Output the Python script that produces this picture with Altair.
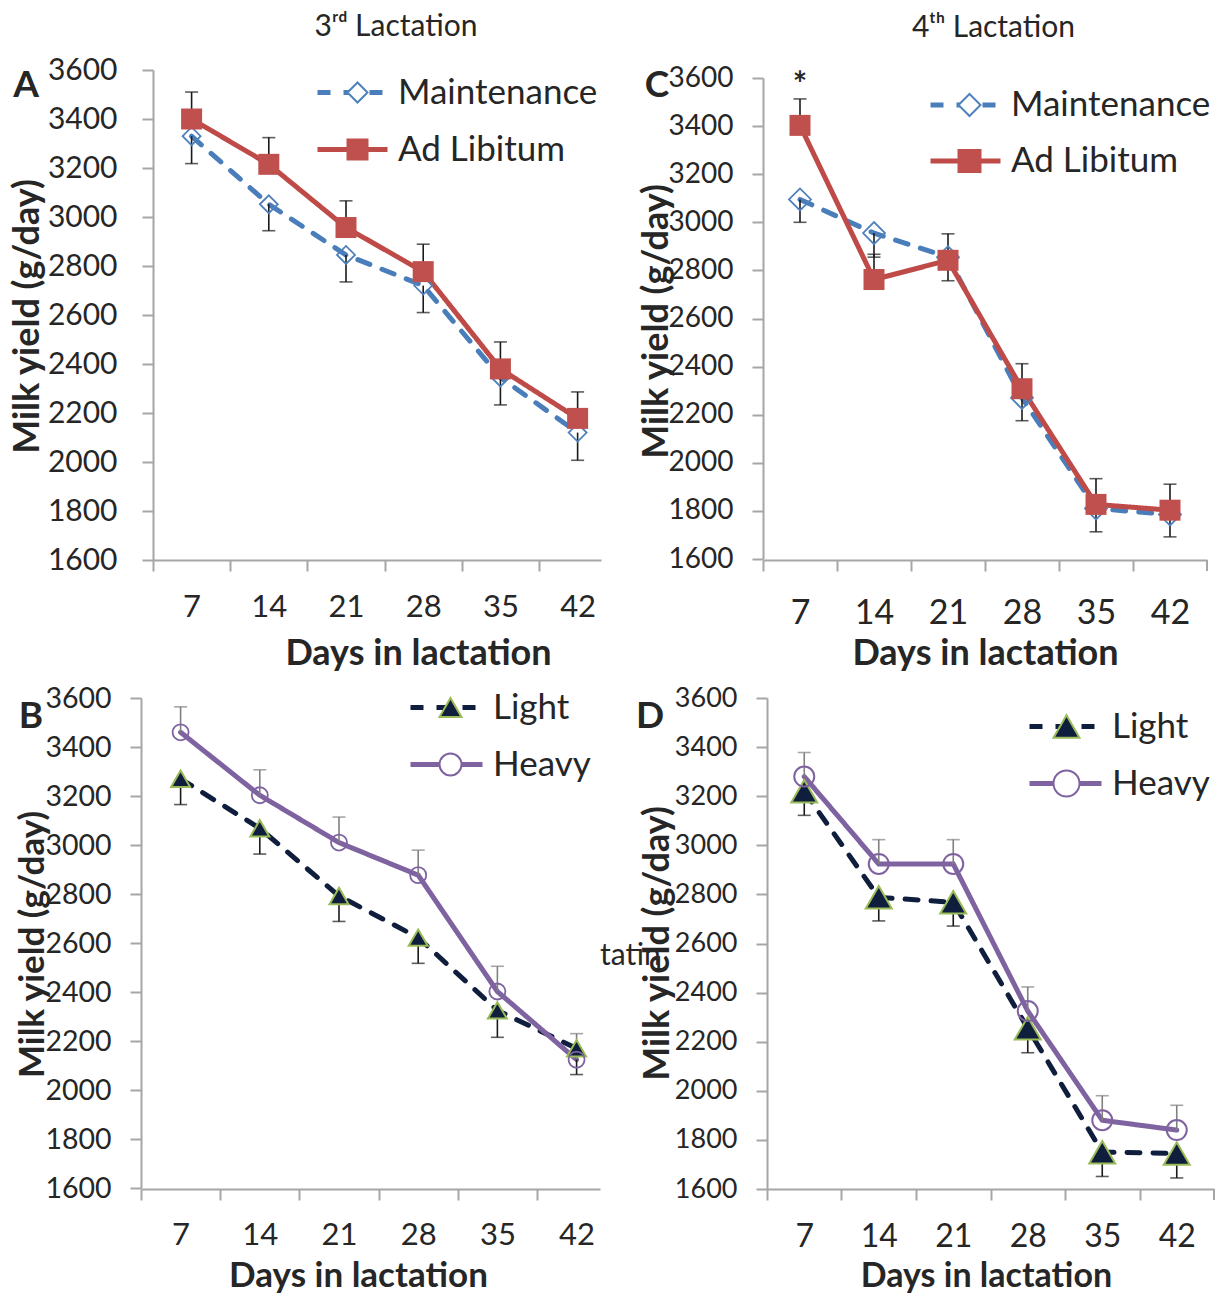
import altair as alt
import pandas as pd

# ---------------- data ----------------
days = [7, 14, 21, 28, 35, 42]
y_ticks = [1600, 1800, 2000, 2200, 2400, 2600, 2800, 3000, 3200, 3400, 3600]
x_bounds = [3.5, 10.5, 17.5, 24.5, 31.5, 38.5]
x_end = [45.5]

# Panel A - 3rd lactation, feeding level
a_maint = [3330, 3052, 2845, 2720, 2345, 2120]
a_maint_se = [112, 108, 110, 110, 112, 113]
a_adlib = [3400, 3215, 2957, 2777, 2380, 2178]
a_adlib_se = [110, 109, 109, 112, 110, 108]

# Panel C - 4th lactation, feeding level
c_maint = [3095, 2955, 2855, 2270, 1810, 1785]
c_maint_se = [95, 100, 98, 95, 97, 93]
c_adlib = [3403, 2762, 2842, 2308, 1827, 1803]
c_adlib_se = [110, 105, 110, 104, 107, 108]

# Panel B - 3rd lactation, body weight
b_light = [3270, 3068, 2792, 2622, 2325, 2170]
b_light_se = [105, 105, 104, 105, 110, 107]
b_heavy = [3460, 3203, 3010, 2877, 2402, 2124]
b_heavy_se = [104, 104, 104, 102, 103, 106]

# Panel D - 4th lactation, body weight
d_light = [3220, 2788, 2768, 2255, 1750, 1745]
d_light_se = [98, 96, 97, 100, 99, 100]
d_heavy = [3280, 2924, 2924, 2325, 1880, 1840]
d_heavy_se = [98, 99, 99, 98, 100, 101]

FONT = "Lato"
TXT = "#262626"
GRAY = "#a6a6a6"
BLUE_L, BLUE_M = "#4a7ebb", "#4f81bd"
RED_L, RED_M = "#be4b48", "#c0504d"
NAVY, GREEN = "#0f1e3d", "#9bbb59"
PURPLE = "#7f63a1"
LW = 5


def sdf(name, vals, ses, direction):
    return pd.DataFrame({"day": days, "series": name, "value": vals,
                         "se": ses, "dir": direction})


def panel(g):
    s1, s2 = g["s1"], g["s2"]
    names = [s1["name"], s2["name"]]
    mnames = [n + " " for n in names]
    d1 = sdf(s1["name"], s1["vals"], s1["se"], -1)
    d2 = sdf(s2["name"], s2["vals"], s2["se"], 1)
    dall = pd.concat([d1, d2], ignore_index=True)

    xaxis = alt.Axis(
        values=x_bounds,
        labelExpr="format(datum.value + 3.5, 'd')",
        labelOffset=g["half"], labelFlush=False, labelOverlap=False,
        grid=False, domainColor=GRAY, domainWidth=2, tickColor=GRAY,
        tickWidth=2, tickSize=11, labelFont=FONT, labelFontSize=g["xls"],
        labelColor=TXT, labelBaseline="middle", labelPadding=g["xlp"],
        title="Days in lactation", titleFont=FONT, titleFontSize=g["xts"],
        titleFontWeight="bold", titleColor=TXT, titleX=g["xtx"],
        titleY=g["xty"], titleBaseline="middle", titleAlign="center")
    yaxis = alt.Axis(
        values=y_ticks, format="d", offset=g["yoff"], grid=False,
        domainColor=GRAY, domainWidth=2, tickColor=GRAY, tickWidth=2,
        tickSize=11, labelFont=FONT, labelFontSize=g["yls"], labelColor=TXT,
        labelPadding=g["ylp"], labelFlush=False,
        title="Milk yield (g/day)", titleFont=FONT, titleFontSize=g["yts"],
        titleFontWeight="bold", titleColor=TXT, titleX=g["ytx"],
        titleY=g["yty"], titleAngle=270, titleBaseline="middle",
        titleAlign="center")

    xs = alt.Scale(domain=g["xdom"], range=g["xr"], nice=False, zero=False)
    ys = alt.Scale(domain=[1600, 3600], range=g["yr"], nice=False, zero=False)

    def X():
        return alt.X("day:Q", scale=xs, axis=xaxis)

    def Y(f):
        return alt.Y(f + ":Q", scale=ys, axis=yaxis)

    leg1 = alt.Legend(
        orient="none", legendX=g["lx"], legendY=g["ly"], title=None,
        symbolType="stroke", symbolSize=g["lsym"] ** 2, symbolStrokeWidth=LW,
        labelFont=FONT, labelFontSize=g["lfs"], labelColor=TXT, labelOffset=8,
        labelLimit=500, clipHeight=g["lrow"] - 2, rowPadding=2, padding=0,
        direction="vertical")
    leg2 = alt.Legend(
        orient="none", legendX=g["lx2"], legendY=g["ly"], title=None,
        symbolSize=g["lmk"] ** 2, symbolStrokeWidth=2, symbolOpacity=1,
        labelFont=FONT, labelFontSize=g["lfs"], labelExpr="''", labelOffset=0,
        clipHeight=g["lrow"] - 2, rowPadding=2, padding=0,
        direction="vertical")

    color = alt.Color("series:N", scale=alt.Scale(domain=names, range=[s1["line"], s2["line"]]), legend=leg1)
    dash = alt.StrokeDash("series:N", scale=alt.Scale(domain=names, range=[[13, 13], [1, 0]]), legend=leg1)

    layers = []
    for d, s in ((d1, s1), (d2, s2)):
        layers.append(alt.Chart(d).mark_line(strokeWidth=LW, strokeCap="round")
                      .encode(x=X(), y=Y("value"), color=color, strokeDash=dash))
    for d, s in ((d1, s1), (d2, s2)):
        base = alt.Chart(d).transform_calculate(end="datum.value + datum.dir * datum.se")
        layers.append(base.mark_rule(color=s["ebar"], strokeWidth=1.6)
                      .encode(x=X(), y=Y("value"), y2="end:Q"))
        layers.append(base.mark_tick(orient="horizontal", size=13, thickness=1.6, color=s["ebar"])
                      .encode(x=X(), y=Y("end")))
    for d, s in ((d1, s1), (d2, s2)):
        layers.append(alt.Chart(d).mark_point(**s["mk"], opacity=1)
                      .encode(x=X(), y=Y("value")))
    # closing tick at the right end of a full category axis
    if g.get("endtick"):
        layers.append(alt.Chart(pd.DataFrame({"day": x_end}))
                      .mark_rule(color=GRAY, strokeWidth=2)
                      .encode(x=X(), y=alt.value(g["h"]), y2=alt.value(g["h"] + 11)))
    # legend-only layer (markers of the legend; draws nothing in the plot)
    layers.append(
        alt.Chart(dall).transform_filter("false").transform_calculate(sm="datum.series + ' '")
        .mark_point(filled=True)
        .encode(x=X(), y=Y("value"),
                shape=alt.Shape("sm:N", scale=alt.Scale(domain=mnames, range=[s1["shape"], s2["shape"]]), legend=leg2),
                fill=alt.Fill("sm:N", scale=alt.Scale(domain=mnames, range=[s1["lfill"], s2["lfill"]]), legend=leg2),
                stroke=alt.Stroke("sm:N", scale=alt.Scale(domain=mnames, range=[s1["lstroke"], s2["lstroke"]]), legend=leg2)))
    # panel letter
    layers.append(alt.Chart(pd.DataFrame({"t": [g["letter"]]}))
                  .mark_text(font=FONT, fontSize=37, fontWeight="bold", color=TXT,
                             align="center", baseline="middle")
                  .encode(text="t:N", x=alt.value(g["letxy"][0]), y=alt.value(g["letxy"][1])))
    for extra in g.get("extra", []):
        layers.append(extra(X, Y))

    ch = alt.layer(*layers).properties(
        width=g["w"], height=g["h"],
        view=alt.ViewBackground(stroke="transparent", strokeWidth=0))
    if "title" in g:
        ch = ch.properties(title=alt.TitleParams(
            text=g["title"], font=FONT, fontSize=30, fontWeight="normal",
            color=TXT, anchor="middle", dx=g["tdx"], offset=g["toff"]))
    return ch


maint = dict(name="Maintenance", line=BLUE_L, ebar="#1a1a1a",
             shape="diamond", lfill="white", lstroke=BLUE_M)
adlib = dict(name="Ad Libitum", line=RED_L, ebar="#1a1a1a",
             shape="square", lfill=RED_M, lstroke=RED_M)
light = dict(name="Light", line=NAVY, ebar="#1a1a1a",
             shape="triangle-up", lfill=NAVY, lstroke=GREEN)
heavy = dict(name="Heavy", line=PURPLE, ebar="#808080",
             shape="circle", lfill="white", lstroke=PURPLE)


def star(X, Y):
    return (alt.Chart(pd.DataFrame({"day": [7], "value": [3600], "t": ["*"]}))
            .mark_text(font=FONT, fontSize=34, fontWeight="bold", color=TXT, dy=8)
            .encode(x=X(), y=Y("value"), text="t:N"))


def stray(X, Y):
    return (alt.Chart(pd.DataFrame({"t": ["tatin"]}))
            .mark_text(font=FONT, fontSize=30, color=TXT, align="left", baseline="middle")
            .encode(text="t:N", x=alt.value(459), y=alt.value(258)))


A = panel(dict(
    s1=dict(maint, vals=a_maint, se=a_maint_se,
            mk=dict(shape="diamond", size=324, filled=False, color=BLUE_M, strokeWidth=1.8)),
    s2=dict(adlib, vals=a_adlib, se=a_adlib_se,
            mk=dict(shape="square", size=441, filled=True, color=RED_M)),
    w=460, h=490, xr=[12, 460], xdom=[3.5, 44.12], half=38.6,
    yr=[490, 0], yoff=-12,
    xls=31, xlp=36, xts=36, xtx=277, xty=93,
    yls=30, ylp=25, yts=36, ytx=-126, yty=246,
    lx=174, ly=-5, lx2=199, lsym=70, lmk=20, lfs=35, lrow=57,
    letter="A", letxy=(-115, 16),
    title="3ʳᵈ Lactation", tdx=25, toff=13))

C = panel(dict(
    s1=dict(maint, vals=c_maint, se=c_maint_se,
            mk=dict(shape="diamond", size=484, filled=False, color=BLUE_M, strokeWidth=1.8)),
    s2=dict(adlib, vals=c_adlib, se=c_adlib_se,
            mk=dict(shape="square", size=441, filled=True, color=RED_M)),
    w=451, h=490, xr=[0, 444], xdom=[3.5, 45.5], half=37, endtick=True,
    yr=[489, 8], yoff=0,
    xls=34, xlp=42, xts=36, xtx=222, xty=93,
    yls=28, ylp=19, yts=36, ytx=-107, yty=251,
    lx=165, ly=8, lx2=189, lsym=70, lmk=22, lfs=35, lrow=56,
    letter="C", letxy=(-106, 16),
    title="4ᵗʰ Lactation", tdx=5, toff=21,
    extra=[star]))

B = panel(dict(
    s1=dict(light, vals=b_light, se=b_light_se,
            mk=dict(shape="triangle-up", size=361, filled=True, fill=NAVY, stroke=GREEN, strokeWidth=2)),
    s2=dict(heavy, vals=b_heavy, se=b_heavy_se,
            mk=dict(shape="circle", size=256, filled=False, color=PURPLE, strokeWidth=1.8)),
    w=460, h=491, xr=[0, 459], xdom=[3.5, 44.07], half=39.6,
    yr=[490, 0], yoff=0,
    xls=31, xlp=35, xts=35, xtx=217, xty=86,
    yls=28.5, ylp=19, yts=35, ytx=-109, yty=246,
    lx=267, ly=-18, lx2=292, lsym=72, lmk=22, lfs=35, lrow=57,
    letter="B", letxy=(-110, 19),
    extra=[stray]))

D = panel(dict(
    s1=dict(light, vals=d_light, se=d_light_se,
            mk=dict(shape="triangle-up", size=676, filled=True, fill=NAVY, stroke=GREEN, strokeWidth=2)),
    s2=dict(heavy, vals=d_heavy, se=d_heavy_se,
            mk=dict(shape="circle", size=400, filled=False, color=PURPLE, strokeWidth=2)),
    w=451, h=491, xr=[4, 451], xdom=[3.5, 45.5], half=37.25, endtick=True,
    yr=[491, 0], yoff=-4,
    xls=32, xlp=36, xts=34, xtx=223, xty=87,
    yls=27, ylp=19, yts=36, ytx=-110, yty=245,
    lx=264, ly=1, lx2=286, lsym=72, lmk=26, lfs=35, lrow=57,
    letter="D", letxy=(-113, 19)))

chart = (alt.concat(A, C, B, D, columns=2, spacing={"row": 138, "column": 162}, bounds="flush")
         .resolve_scale(color="independent", strokeDash="independent", shape="independent",
                        fill="independent", stroke="independent")
         .resolve_legend(color="independent", strokeDash="independent", shape="independent",
                         fill="independent", stroke="independent")
         .properties(padding={"left": 1, "top": 4, "right": 0, "bottom": 0})
         .configure_view(stroke="transparent", strokeWidth=0)
         .configure(font=FONT, background="white"))

chart.save("out.html", embed_options={"renderer": "svg", "actions": False})
